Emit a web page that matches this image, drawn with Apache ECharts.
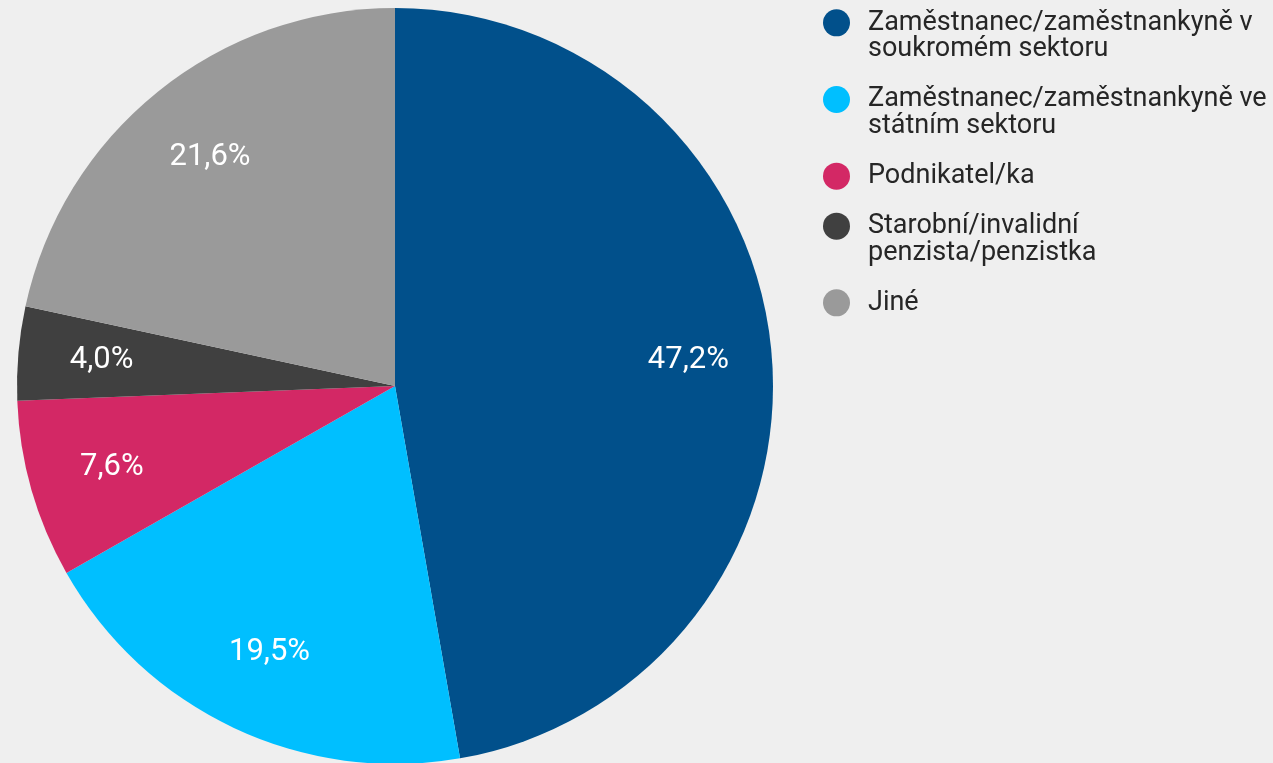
<!DOCTYPE html>
<html>
<head>
<meta charset="utf-8">
<script src="https://cdn.jsdelivr.net/npm/echarts@6/dist/echarts.min.js"></script>
<style>
    html, body { margin: 0; padding: 0; background: #efefef; }
    #mainWrap { width: 1273px; height: 763px; }
</style>
</head>
<body>
<div id="mainWrap"></div>
<script>
var categories = [
    'Zaměstnanec/zaměstnankyně v soukromém sektoru',
    'Zaměstnanec/zaměstnankyně ve státním sektoru',
    'Podnikatel/ka',
    'Starobní/invalidní penzista/penzistka',
    'Jiné'
];
var legendLabels = [
    'Zaměstnanec/zaměstnankyně v\nsoukromém sektoru',
    'Zaměstnanec/zaměstnankyně ve\nstátním sektoru',
    'Podnikatel/ka',
    'Starobní/invalidní\npenzista/penzistka',
    'Jiné'
];
var values = [47.2, 19.5, 7.6, 4.0, 21.6];
var colors = ['#01508b', '#00bfff', '#d32865', '#404040', '#9a9a9a'];

var pieData = categories.map(function (name, i) {
    return { name: name, value: values[i] };
});

// one legend per item so the icon can sit on the first text line
var lineH = 26.7;
var iconTops = [22.7, 99.3, 176, 226, 302.7];
var legends = categories.map(function (name, i) {
    var twoLines = legendLabels[i].indexOf('\n') >= 0;
    return {
        left: 823,
        top: twoLines ? iconTops[i] - 1.5 * lineH : iconTops[i] - lineH / 2,
        orient: 'vertical',
        padding: 0,
        itemWidth: 27,
        itemHeight: 27,
        icon: 'circle',
        selectedMode: false,
        data: [name],
        formatter: function () {
            // empty first line pushes the label down so the icon lines up with line one
            return twoLines ? '\n' + legendLabels[i] : legendLabels[i];
        },
        textStyle: {
            fontFamily: 'Roboto',
            fontSize: 27,
            lineHeight: lineH,
            color: '#262626',
            padding: [0, 0, 0, 13]
        }
    };
});

var myChart = echarts.init(document.getElementById('mainWrap'));
var option = {
    backgroundColor: '#efefef',
    color: colors,
    animation: false,
    legend: legends,
    series: [
        {
            name: 'pie',
            type: 'pie',
            center: [395, 386],
            radius: [0, 378],
            label: { show: false },
            labelLine: { show: false },
            emphasis: { disabled: true },
            data: pieData
        },
        {
            // transparent ring only used to place the percentage labels
            name: 'labels',
            type: 'pie',
            center: [395, 386],
            radius: [205, 378],
            silent: true,
            itemStyle: { color: 'transparent' },
            label: {
                show: true,
                position: 'inside',
                fontFamily: 'Roboto',
                fontSize: 31,
                color: '#ffffff',
                formatter: function (p) {
                    return p.value.toFixed(1).replace('.', ',') + '%';
                }
            },
            labelLine: { show: false },
            emphasis: { disabled: true },
            data: pieData
        }
    ]
};
myChart.setOption(option);
</script>
</body>
</html>
